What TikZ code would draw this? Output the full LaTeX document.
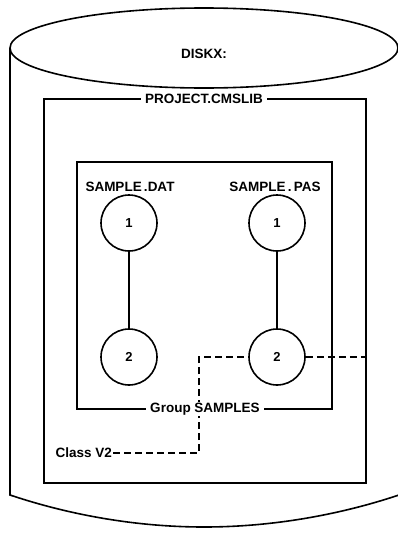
\documentclass[tikz,border=0pt]{standalone}
\usepackage{fontspec}
\setmainfont{Liberation Sans}
\begin{document}
\begin{tikzpicture}[x=1pt,y=-1pt,
  lw/.style={line width=1.6pt},
  box/.style={draw,lw,rectangle,inner sep=0pt},
  ver/.style={draw,lw,circle,fill=white,minimum size=56pt,inner sep=0pt,font=\bfseries\fontsize{13}{15}\selectfont},
  lbl/.style={font=\bfseries\fontsize{13.5}{16}\selectfont,inner sep=1pt},
  ttl/.style={lbl,fill=white,inner xsep=4pt},
  dashline/.style={lw,dash pattern=on 7pt off 4pt}]
\useasboundingbox (0,0) rectangle (397,533);
\fill[white] (0,0) rectangle (397,533);
% cylinder
\draw[lw] (10,48) -- (10,495) parabola bend (204,527) (399,495) -- (399,48);
\draw[lw,fill=white] (204,48) ellipse [x radius=194, y radius=40];
\node[lbl] (disk) at (204,54) {DISKX:};
% boxes
\node[box,minimum width=322pt,minimum height=384pt] (outer) at (205,291) {};
\node[box,minimum width=255pt,minimum height=247pt] (inner) at (204.5,285.5) {};
% versions
\node[ver] (dat1) at (129,223) {1};
\node[ver] (dat2) at (129,357) {2};
\node[ver] (pas1) at (277,223) {1};
\node[ver] (pas2) at (277,357) {2};
\draw[lw] (dat1) -- (dat2);
\draw[lw] (pas1) -- (pas2);
\node[lbl] (datl) at (130,187) {SAMPLE\,.DAT};
\node[lbl] (pasl) at (275,187) {SAMPLE\,.\,PAS};
% class dashed line
\node[lbl,anchor=east] (cls) at (113,453) {Class V2};
\coordinate (bend) at (199,357);
\draw[dashline] (cls.east) -| (bend) -- (pas2.west);
\draw[dashline] (pas2.east) -- (pas2.east -| outer.east);
% titles on box edges
\node[ttl] (projl) at (204,99) {PROJECT.CMSLIB};
\node[ttl] (grpl) at (205,409) {Group SAMPLES};
\end{tikzpicture}
\end{document}
